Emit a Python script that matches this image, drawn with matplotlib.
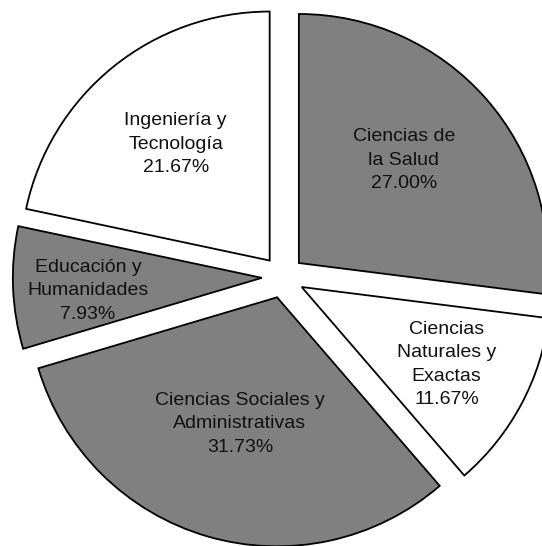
import numpy as np
import matplotlib
matplotlib.use("Agg")
import matplotlib.pyplot as plt

plt.rcParams["font.family"] = ["Liberation Sans", "DejaVu Sans"]

# clockwise from the top
areas = [
    "Ciencias de\nla Salud",
    "Ciencias\nNaturales y\nExactas",
    "Ciencias Sociales y\nAdministrativas",
    "Educación y\nHumanidades",
    "Ingeniería y\nTecnología",
]
shares = [27.00, 11.67, 31.73, 7.93, 21.67]
colors = ["#808080", "#ffffff", "#808080", "#808080", "#ffffff"]

# label placement: distance from each wedge tip (radii) and angle nudge (deg)
label_r = [0.59, 0.66, 0.53, 0.70, 0.60]
label_nudge = [3, 0, 0, 2, 0]

fig = plt.figure(figsize=(5.42, 5.46), dpi=100)
ax = fig.add_axes([0, 0, 1, 1])

wedges, _ = ax.pie(
    shares,
    colors=colors,
    startangle=90,
    counterclock=False,
    explode=[0.085] * len(shares),
    wedgeprops=dict(edgecolor="black", linewidth=1.3),
)

for w, name, val, r, nd in zip(wedges, areas, shares, label_r, label_nudge):
    ang = np.deg2rad((w.theta1 + w.theta2) / 2 + nd)
    cx, cy = w.center
    ax.text(
        cx + r * np.cos(ang),
        cy + r * np.sin(ang),
        f"{name}\n{val:.2f}%",
        ha="center",
        va="center",
        fontsize=14,
        linespacing=1.5,
        color="#111111",
    )

# pie center sits at (283, 277) px from top-left, radius 249 px
R = 249.0
ax.set_xlim(-283 / R, (542 - 283) / R)
ax.set_ylim(-(546 - 277) / R, 277 / R)
ax.set_aspect("equal", adjustable="datalim")
ax.axis("off")

fig.savefig("out.png", dpi=100, facecolor="white")
